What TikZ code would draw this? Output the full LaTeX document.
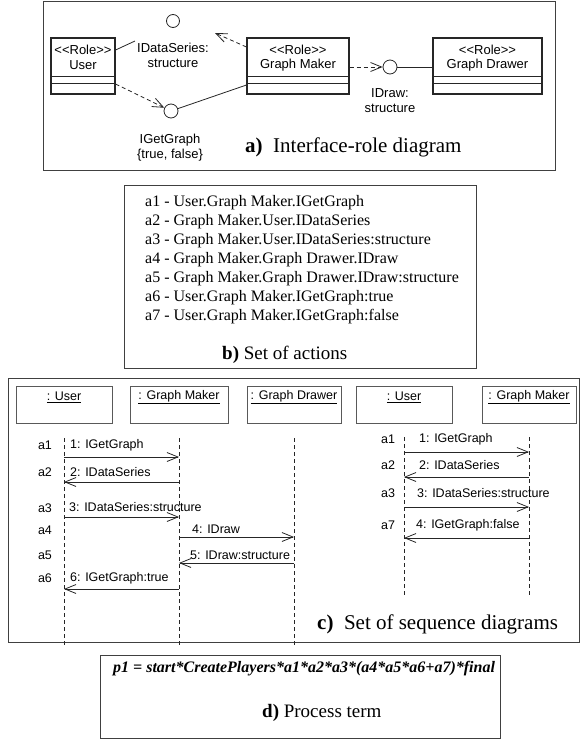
\documentclass[tikz,border=0pt]{standalone}
\usepackage{fontspec}
\setmainfont{Liberation Serif}
\setsansfont{Liberation Sans}
\usetikzlibrary{arrows.meta}
\begin{document}
\begin{tikzpicture}[x=1pt,y=-1pt,
  frame/.style={draw=black!75,line width=1pt},
  rolebox/.style={draw=black!85,line width=1.1pt,minimum height=56pt,inner sep=0pt},
  iface/.style={circle,draw=black!85,line width=0.8pt,minimum size=14pt,inner sep=0pt},
  conn/.style={draw=black!85,line width=0.8pt},
  barb/.style={-{Straight Barb[length=11pt,width=9pt,line width=0.8pt]}},
  dep/.style={conn,dash pattern=on 4pt off 3pt,barb},
  rtxt/.style={font=\fontsize{13}{15}\selectfont\sffamily,inner sep=0pt,align=center},
  stxt/.style={font=\fontsize{12.5}{14}\selectfont\sffamily,inner sep=0pt},
  hdr/.style={draw=black!65,line width=0.8pt,minimum height=37pt,inner sep=0pt},
  life/.style={draw=black!85,line width=0.8pt,dash pattern=on 4pt off 3pt},
  msg/.style={conn,barb},
  capbig/.style={font=\fontsize{21}{24}\selectfont,inner sep=0pt,anchor=base west},
  capsm/.style={font=\fontsize{19}{22}\selectfont,inner sep=0pt,anchor=base west},
  btxt/.style={font=\fontsize{16}{19}\selectfont,inner sep=0pt,anchor=base west}
]
\useasboundingbox (0,0) rectangle (582,742);

% ---------------- a) Interface-role diagram ----------------
\draw[frame] (43,1) rectangle (555,170);
\node[rolebox,minimum width=64pt] (user) at (83,66) {};
\node[rolebox,minimum width=102pt] (gm) at (298,66) {};
\node[rolebox,minimum width=109pt] (gd) at (487.5,66) {};
\foreach \n in {user,gm,gd}{
  \draw[conn] (\n.west |- 0,76) -- (\n.east |- 0,76);
  \draw[conn] (\n.west |- 0,83) -- (\n.east |- 0,83);
}
\node[rtxt] (userst) at (83,50) {<{}<Role>{}>};
\node[rtxt] (usernm) at (83,65) {User};
\node[rtxt] (gmst) at (298,50) {<{}<Role>{}>};
\node[rtxt] (gmnm) at (298,65) {Graph Maker};
\node[rtxt] (gdst) at (487.5,50) {<{}<Role>{}>};
\node[rtxt] (gdnm) at (487.5,65) {Graph Drawer};

\node[iface,minimum size=13pt] (ids) at (173,21) {};
\node[iface] (igg) at (171,111) {};
\node[iface] (idraw) at (390,67) {};

\coordinate (idsend) at (135,41);
\coordinate (idstip) at (215,33);
\draw[conn] (user.east |- 0,50) -- (idsend);
\draw[dep] (gm.west |- 0,47) -- (idstip);
\draw[dep] (user.east |- 0,84) -- (igg);
\draw[conn] (igg) -- (gm.west |- 0,85);
\draw[dep] (gm.east |- 0,67) -- (idraw);
\draw[conn] (idraw) -- (gd.west |- 0,67);

\node[rtxt] (idslbl) at (173,55.5) {IDataSeries:\\structure};
\node[rtxt] (igglbl) at (170,147.5) {IGetGraph\\\{true, false\}};
\node[rtxt] (idrlbl) at (390,100.5) {IDraw:\\structure};
\node[capbig] (acap) at (245,152) {\textbf{a)}\hspace{0.5em}Interface-role diagram};

% ---------------- b) Set of actions ----------------
\draw[frame] (124,185) rectangle (476,368);
\foreach \i/\t in {1/a1 - User.Graph Maker.IGetGraph,
                   2/a2 - Graph Maker.User.IDataSeries,
                   3/a3 - Graph Maker.User.IDataSeries:structure,
                   4/a4 - Graph Maker.Graph Drawer.IDraw,
                   5/a5 - Graph Maker.Graph Drawer.IDraw:structure,
                   6/a6 - User.Graph Maker.IGetGraph:true,
                   7/a7 - User.Graph Maker.IGetGraph:false}{
  \node[btxt] (b\i) at (145,{187+19*\i}) {\t};
}
\node[capsm] (bcap) at (222,359) {\textbf{b)} Set of actions};

% ---------------- c) Set of sequence diagrams ----------------
\draw[frame] (8,378) rectangle (579,642);
\node[hdr,minimum width=96pt] (u1) at (64,404.5) {};
\node[hdr,minimum width=98pt] (g1) at (179,404.5) {};
\node[hdr,minimum width=94pt] (d1) at (294,404.5) {};
\node[hdr,minimum width=96pt] (u2) at (404,404.5) {};
\node[hdr,minimum width=94pt] (g2) at (529,404.5) {};
\node[stxt] (u1t) at (64,397) {\underline{: User}};
\node[stxt] (g1t) at (179,397) {\underline{: Graph Maker}};
\node[stxt] (d1t) at (294,397) {\underline{: Graph Drawer}};
\node[stxt] (u2t) at (404,397) {\underline{: User}};
\node[stxt] (g2t) at (529,397) {\underline{: Graph Maker}};

\draw[life] ([yshift=-15pt]u1.south) -- (u1.south |- 0,648);
\draw[life] ([yshift=-15pt]g1.south) -- (g1.south |- 0,648);
\draw[life] ([yshift=-15pt]d1.south) -- (d1.south |- 0,648);
\draw[life] ([yshift=-14pt]u2.south) -- (u2.south |- 0,598);
\draw[life] ([yshift=-14pt]g2.south) -- (g2.south |- 0,598);

% diagram 1
\draw[msg] (u1.south |- 0,457) -- (g1.south |- 0,457);
\draw[msg] (g1.south |- 0,482) -- (u1.south |- 0,482);
\draw[msg] (u1.south |- 0,517) -- (g1.south |- 0,517);
\draw[msg] (g1.south |- 0,537) -- (d1.south |- 0,537);
\draw[msg] (d1.south |- 0,563) -- (g1.south |- 0,563);
\draw[msg] (g1.south |- 0,589) -- (u1.south |- 0,589);
\node[stxt,anchor=west] (m1) at (70,445) {1: IGetGraph};
\node[stxt,anchor=west] (m2) at (70,472) {2: IDataSeries};
\node[stxt,anchor=west] (m3) at (69,507) {3: IDataSeries:structure};
\node[stxt,anchor=west] (m4) at (192,529) {4: IDraw};
\node[stxt,anchor=west] (m5) at (190,555) {5: IDraw:structure};
\node[stxt,anchor=west] (m6) at (70,578) {6: IGetGraph:true};
\node[stxt] (x1) at (45,445) {a1};
\node[stxt] (x2) at (45,472) {a2};
\node[stxt] (x3) at (45,508) {a3};
\node[stxt] (x4) at (45,530) {a4};
\node[stxt] (x5) at (45,555) {a5};
\node[stxt] (x6) at (45,578) {a6};

% diagram 2
\draw[msg] (u2.south |- 0,452) -- (g2.south |- 0,452);
\draw[msg] (g2.south |- 0,477) -- (u2.south |- 0,477);
\draw[msg] (u2.south |- 0,507) -- (g2.south |- 0,507);
\draw[msg] (g2.south |- 0,538) -- (u2.south |- 0,538);
\node[stxt,anchor=west] (n1) at (419,439) {1: IGetGraph};
\node[stxt,anchor=west] (n2) at (419,465) {2: IDataSeries};
\node[stxt,anchor=west] (n3) at (417,493) {3: IDataSeries:structure};
\node[stxt,anchor=west] (n4) at (416,525) {4: IGetGraph:false};
\node[stxt] (y1) at (388,439) {a1};
\node[stxt] (y2) at (388,465) {a2};
\node[stxt] (y3) at (388,493) {a3};
\node[stxt] (y7) at (388,525) {a7};

\node[capbig] (ccap) at (317,629) {\textbf{c)}\hspace{0.5em}Set of sequence diagrams};

% ---------------- d) Process term ----------------
\draw[frame] (100,655) rectangle (500,738);
\node[font=\fontsize{16}{19}\selectfont\bfseries\itshape,inner sep=0pt,anchor=base west] (pterm) at (113,672.5) {p1 = start*CreatePlayers*a1*a2*a3*(a4*a5*a6+a7)*final};
\node[capsm] (dcap) at (262,717) {\textbf{d)} Process term};
\end{tikzpicture}
\end{document}
